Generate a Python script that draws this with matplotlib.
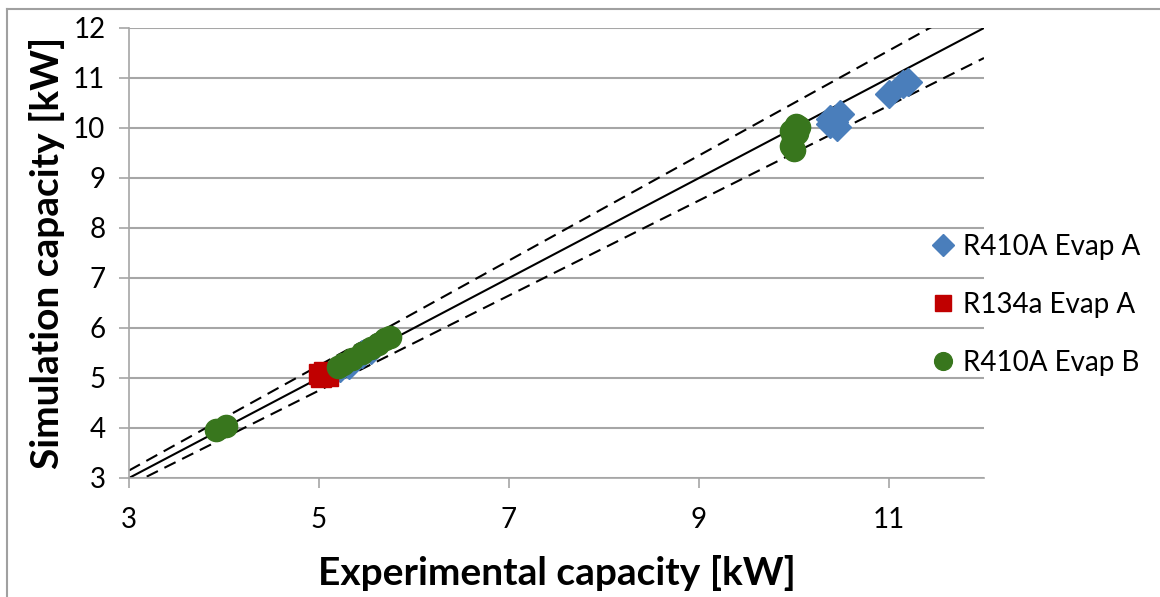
import matplotlib
matplotlib.use("Agg")
import matplotlib.pyplot as plt
import numpy as np
from matplotlib.lines import Line2D

plt.rcParams["font.family"] = ["Lato", "DejaVu Sans"]

# R410A Evap A (blue diamonds)
a410_x = [5.22, 5.32, 5.45, 5.55, 10.38, 10.48, 10.45, 10.38, 10.42, 11.0, 11.15, 11.2]
a410_y = [5.2, 5.27, 5.48, 5.56, 10.18, 10.28, 10.02, 10.08, 10.12, 10.68, 10.88, 10.93]
# R134a Evap A (red squares)
a134_x = [5.0, 5.05, 5.1, 5.02]
a134_y = [5.08, 5.12, 5.04, 5.02]
# R410A Evap B (green circles)
b410_x = [3.92, 4.02, 5.2, 5.25, 5.35, 5.45, 5.55, 5.62, 5.7, 5.75,
          9.97, 10.02, 10.05, 9.97, 10.0, 9.99, 10.03]
b410_y = [3.96, 4.04, 5.22, 5.28, 5.38, 5.5, 5.6, 5.68, 5.78, 5.83,
          9.95, 10.05, 10.02, 9.65, 9.55, 9.8, 9.9]

ref_x = np.array([3.0, 12.0])
band = 0.05

fig = plt.figure(figsize=(11.6, 5.97), dpi=100)
ax = fig.add_axes([129 / 1160, 119 / 597, 855 / 1160, 450 / 597])

ax.plot(ref_x, ref_x, color="black", lw=1.5, zorder=2)
ax.plot(ref_x, ref_x * (1 + band), color="black", lw=1.5, ls=(0, (6, 3.5)), zorder=2)
ax.plot(ref_x, ref_x * (1 - band), color="black", lw=1.5, ls=(0, (6, 3.5)), zorder=2)

ax.plot(a410_x, a410_y, "D", color="#4a7ebb", ms=14, ls="none", label="R410A Evap A", zorder=3)
ax.plot(a134_x, a134_y, "s", color="#c00000", ms=15, ls="none", label="R134a Evap A", zorder=4)
ax.plot(b410_x, b410_y, "o", color="#38761d", ms=16, ls="none", label="R410A Evap B", zorder=5)

ax.set_xlim(3, 12)
ax.set_ylim(3, 12)
ax.set_xticks([3, 5, 7, 9, 11])
ax.set_yticks(range(3, 13))
ax.grid(axis="y", color="#a6a6a6", lw=1.5)
ax.set_axisbelow(True)
for s in ["top", "right"]:
    ax.spines[s].set_visible(False)
for s in ["left", "bottom"]:
    ax.spines[s].set_color("#a6a6a6")
    ax.spines[s].set_linewidth(1.2)
ax.tick_params(axis="both", colors="#a6a6a6", length=7, width=1.2, labelsize=20,
               labelcolor="black")
ax.tick_params(axis="x", pad=14)
ax.tick_params(axis="y", pad=10)

ax.set_xlabel("Experimental capacity [kW]", fontsize=28, fontweight="bold", labelpad=16)
ax.set_ylabel("Simulation capacity [kW]", fontsize=28, fontweight="bold", labelpad=6)

leg = ax.legend(loc="center left", bbox_to_anchor=(0.925, 0.385), frameon=False,
                fontsize=20, markerscale=0.8, handlelength=0.7, handletextpad=0.35,
                labelspacing=1.15, borderpad=0)

fig.add_artist(Line2D([7 / 1160, 7 / 1160], [0, 1 - 9 / 597], color="#a0a0a0", lw=1.5))
fig.add_artist(Line2D([7 / 1160, 1], [1 - 9 / 597, 1 - 9 / 597], color="#a0a0a0", lw=1.5))

fig.savefig("out.png", dpi=100)
